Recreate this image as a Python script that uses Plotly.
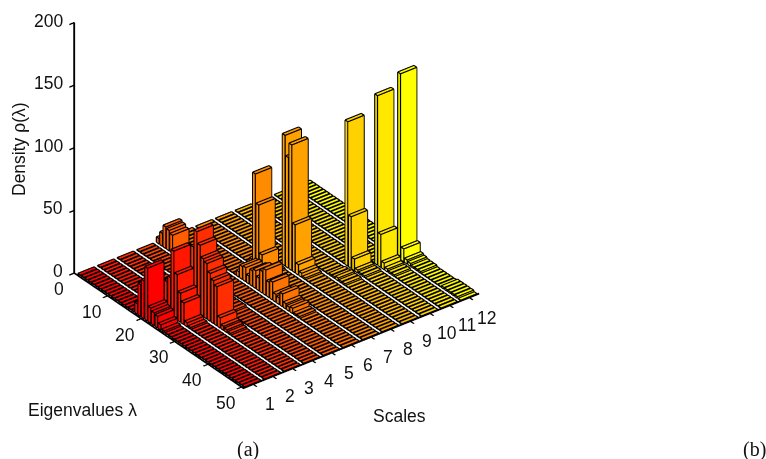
import plotly.graph_objects as go
import numpy as np

scales = [1, 2, 3, 4, 5, 6, 7, 8, 9, 10, 11, 12]
eigenvalues = list(range(1, 51))
scale_ticks = [1, 2, 3, 4, 5, 6, 7, 8, 9, 10, 11, 12]
eigen_ticks = [0, 10, 20, 30, 40, 50]
density_ticks = [0, 50, 100, 150, 200]
colors = ["#ff0000", "#ff1700", "#ff2e00", "#ff4600", "#ff5d00", "#ff7400",
          "#ff8b00", "#ffa200", "#ffb900", "#ffd100", "#ffe800", "#ffff00"]

rho_01 = [0,0,0,0,0,0,0,0,0,0,0,0,0,0,0,0,0,8,25,30,42,12,10,9,4,1,0,0,0,0,0,0,0,0,0,0,0,0,0,0,0,0,0,0,0,0,0,0,0,0]
rho_02 = [0,0,0,0,0,0,0,0,0,0,0,0,0,0,0,0,0,0,0,15,25,30,53,36,23,17,3,1,0,0,0,0,0,0,0,0,0,0,0,0,0,0,0,0,0,0,0,0,0,0]
rho_03 = [0,0,0,0,0,0,0,0,0,0,0,0,0,0,0,0,0,0,0,0,0,20,50,64,55,46,44,38,34,31,8,3,2,1,0,0,0,0,0,0,0,0,0,0,0,0,0,0,0,0]
rho_04 = [0,0,0,0,0,0,0,0,0,0,0,0,0,0,0,0,0,0,0,0,0,0,0,0,1,1,1,1,0,0,0,0,0,0,0,0,0,0,0,0,0,0,0,0,0,0,0,0,0,0]
rho_05 = [4,10,17,16,14,3,1,0,0,0,0,0,0,0,0,0,0,0,0,0,0,0,0,0,0,0,0,0,0,0,0,0,0,0,0,0,0,0,0,0,0,0,0,0,0,0,0,0,0,0]
rho_06 = [0,0,0,0,0,0,0,0,0,0,0,0,0,0,0,0,0,0,4,10,11,6,12,14,10,17,20,12,14,6,5,10,4,3,4,1,1,0,0,0,0,0,0,0,0,0,0,0,0,0]
rho_07 = [0,0,0,0,0,0,0,0,0,0,0,0,0,0,0,0,4,74,51,13,3,1,0,0,0,0,0,0,0,0,0,0,0,0,0,0,0,0,0,0,0,0,0,0,0,0,0,0,0,0]
rho_08 = [0,0,0,0,0,0,0,0,0,0,0,0,0,0,0,0,0,0,0,0,104,88,100,38,8,3,1,0,0,0,0,0,0,0,0,0,0,0,0,0,0,0,0,0,0,0,0,0,0,0]
rho_09 = [0,0,0,0,0,0,0,0,0,0,0,0,0,0,0,0,0,0,0,0,0,0,0,0,0,0,0,0,1,1,2,1,1,0,0,0,0,0,0,0,0,0,0,0,0,0,0,0,0,0]
rho_10 = [0,0,0,0,0,0,0,0,0,0,0,0,0,0,0,0,0,0,0,0,0,0,0,0,0,0,0,115,41,9,2,1,1,0,0,0,0,0,0,0,0,0,0,0,0,0,0,0,0,0]
rho_11 = [0,0,0,0,0,0,0,0,0,0,0,0,0,0,0,0,0,0,0,0,0,0,0,0,0,0,0,0,0,0,135,26,5,2,1,1,0,0,0,0,0,0,0,0,0,0,0,0,0,0]
rho_12 = [0,0,0,0,0,0,0,0,0,0,0,0,0,0,0,0,0,0,0,0,0,0,0,0,0,0,0,0,0,0,0,148,10,3,2,1,1,1,0,0,0,0,0,0,1,1,1,1,1,0]
series = [rho_01, rho_02, rho_03, rho_04, rho_05, rho_06, rho_07, rho_08, rho_09, rho_10, rho_11, rho_12]

W = 0.4
EDGE = 0.015
fig = go.Figure()
ex, ey, ez = [], [], []
for s, vals, col in zip(scales, series, colors):
    X, Y, Z, I, J, K = [], [], [], [], [], []
    for lam, h in zip(eigenvalues, vals):
        n = len(X)
        x0, x1, y0, y1 = s - W, s + W, lam - W, lam + W
        X += [x0, x1, x1, x0, x0, x1, x1, x0]
        Y += [y0, y0, y1, y1, y0, y0, y1, y1]
        Z += [0, 0, 0, 0, h, h, h, h]
        for a, b, c in [(4,5,6),(4,6,7),(0,1,5),(0,5,4),(1,2,6),(1,6,5),(2,3,7),(2,7,6),(3,0,4),(3,4,7),(0,1,2),(0,2,3)]:
            I.append(n+a); J.append(n+b); K.append(n+c)
        # edges sit a hair outside the faces so the depth test keeps them visible
        xa, xb, ya, yb, zt = x0 - EDGE, x1 + EDGE, y0 - EDGE, y1 + EDGE, h + 0.3
        bx = [xa, xb, xb, xa, xa, xb, xb, xa]
        by = [ya, ya, yb, yb, ya, ya, yb, yb]
        bz = [0, 0, 0, 0, zt, zt, zt, zt]
        for a, b in [(4,5),(5,6),(6,7),(7,4),(0,4),(1,5),(2,6),(3,7),(0,1),(1,2),(2,3),(3,0)]:
            ex += [bx[a], bx[b], None]
            ey += [by[a], by[b], None]
            ez += [bz[a], bz[b], None]
    fig.add_trace(go.Mesh3d(x=X, y=Y, z=Z, i=I, j=J, k=K, color=col, flatshading=True,
                            lighting=dict(ambient=1, diffuse=0, specular=0, fresnel=0),
                            hoverinfo="skip", showscale=False))
fig.add_trace(go.Scatter3d(x=ex, y=ey, z=ez, mode="lines", line=dict(color="black", width=2.4),
                           hoverinfo="skip", showlegend=False))

ax = dict(showgrid=False, zeroline=False, showbackground=False, showline=True, linecolor="black",
          linewidth=4, ticks="outside", ticklen=6, tickcolor="black", tickwidth=3,
          showticklabels=False, title=dict(text=""))
tf = dict(family="Liberation Sans", size=17.5, color="#111111")
scene_text = []
for v in eigen_ticks:
    scene_text.append(dict(x=0.5, y=v, z=0, text=str(v), showarrow=False, font=tf,
                           xshift=-15 if v == 0 else -16, yshift=-16))
for v in scale_ticks:
    scene_text.append(dict(x=v, y=50.5, z=0, text=str(v), showarrow=False, font=tf, xshift=17, yshift=-20))
for v in density_ticks:
    scene_text.append(dict(x=0.5, y=0, z=v, text=str(v), showarrow=False, font=tf, xanchor="right", xshift=-9, yshift=2))

sa, ca = 0.609, 0.793
se, ce = 0.5225, 0.8526
r = np.array([ca, -sa, 0.0])
u = np.array([sa*se, ca*se, ce])
c = r*(108/233) - u*(72.5/233)
d = np.array([-sa*ce, -ca*ce, se]) * 1.6
e = d + c
fig.update_layout(
    width=766, height=459, margin=dict(l=0, r=0, t=0, b=0), paper_bgcolor="white", showlegend=False,
    scene=dict(
        domain=dict(x=[0, 1], y=[0, 1]),
        xaxis=dict(ax, range=[0.5, 12.5], tickmode="array", tickvals=scale_ticks),
        yaxis=dict(ax, range=[50.5, 0], tickmode="array", tickvals=eigen_ticks),
        zaxis=dict(ax, range=[0, 200], tickmode="array", tickvals=density_ticks),
        aspectmode="manual", aspectratio=dict(x=1.295, y=1.21, z=1.28),
        annotations=scene_text,
        camera=dict(projection=dict(type="orthographic"),
                    eye=dict(x=e[0], y=e[1], z=e[2]),
                    up=dict(x=0, y=0, z=1), center=dict(x=c[0], y=c[1], z=c[2])),
    ),
)
L = [("Eigenvalues λ", 82, 410, 0, "Liberation Sans"), ("Scales", 399, 416, 0, "Liberation Sans"),
     ("Density ρ(λ)", 19, 149, -90, "Liberation Sans"), ("(a)", 248, 449, 0, "Liberation Serif"),
     ("(b)", 754, 449, 0, "Liberation Serif")]
fig.layout.annotations = [dict(text=t, x=x/766, y=1-y/459, xref="paper", yref="paper", showarrow=False, textangle=a,
                               xanchor="center", yanchor="middle",
                               font=dict(family=f, size=17.5 if "Sans" in f else 20, color="#111111"))
                          for t, x, y, a, f in L]
fig.write_html("out.html", config={"displayModeBar": False},
               post_script="document.body.style.margin='0';document.body.style.overflow='hidden';")
